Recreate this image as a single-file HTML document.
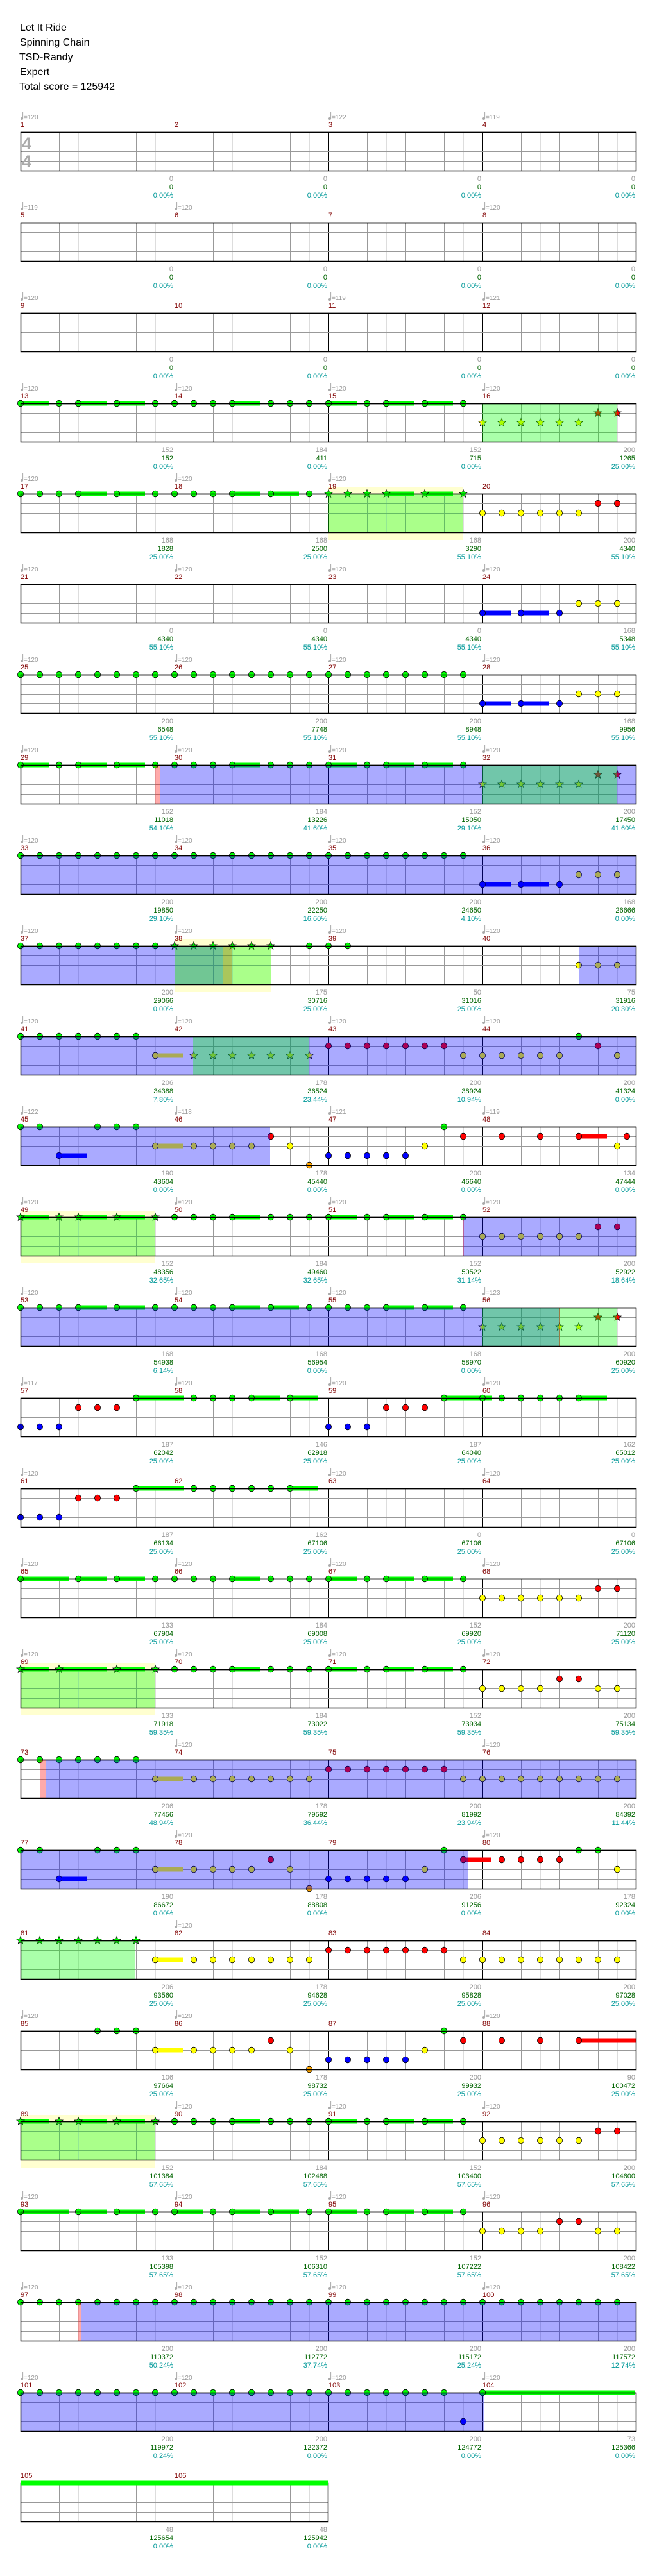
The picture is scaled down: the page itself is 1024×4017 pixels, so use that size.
<!DOCTYPE html>
<html><head><meta charset="utf-8"><style>
html,body{margin:0;padding:0;background:#fff;}
svg text{font-family:"Liberation Sans","DejaVu Sans",sans-serif;}
</style></head><body>
<svg id="s" xmlns="http://www.w3.org/2000/svg" width="1024" height="4012" viewBox="0 0 1024 4012">
<rect width="1024" height="4012" fill="#fff"/>
<text x="31" y="48" font-size="16">Let It Ride</text>
<text x="31" y="71" font-size="16">Spinning Chain</text>
<text x="30" y="94" font-size="16">TSD-Randy</text>
<text x="31" y="117" font-size="16">Expert</text>
<text x="30" y="140" font-size="16">Total score = 125942</text>
</svg>
<script>
(function(){
var svg=document.getElementById('s');var NS='http://www.w3.org/2000/svg';var out=[];
var X0=32,E=30,MW=240;
function ex(e){return X0+E*e;}
var LC={g:'#00ff00',r:'#ff0000',y:'#ffff00',b:'#0000ff',o:'#ffa500'};
var LI={g:0,r:1,y:2,b:3,o:4};
function R(a,b,l,f){var s=[];for(var i=a;i<=b;i++)s.push(i+l+(f||''));return s.join(' ');}
var M1="0g-44 2g 3g-44 5g-44 7g 8g 9g 10g 11g-44 13g 14g 15g 16g-44 18g 19g-44 21g-44 23g";
var S16="24ys 25ys 26ys 27ys 28ys 29ys 30rs 31rs";
var B6="24b-44 26b-44 28b 29y 30y 31y";
var YR="24y 25y 26y 27y 28y 29y 30r 31r";
var MID="8g 9g 10g 11g-44 13g 14g 15g 16g-44 18g 19g-44 21g-44 23g";
var STARS1="0gs-44 2gs 3gs-44 5gs-44 7gs "+MID+" "+YR;
var z3=[['0','0','0.00%'],['0','0','0.00%'],['0','0','0.00%'],['0','0','0.00%']];
var rows=[
{t:[[0,120],[2,122],[3,119]],n:"",st:z3,ts:1},
{t:[[0,119],[1,120],[3,120]],n:"",st:z3},
{t:[[0,120],[2,119],[3,121]],n:"",st:z3},
{t:[[0,120],[1,120],[2,120],[3,120]],n:M1+" "+S16,ov:[['g',752,962]],st:[['152','152','0.00%'],['184','411','0.00%'],['152','715','0.00%'],['200','1265','25.00%']]},
{t:[[0,120],[1,120],[2,120]],n:"0g 1g 2g 3g-44 5g-44 7g 8g 9g 10g 11g-44 13g-44 15g 16gs 17gs 18gs 19gs-44 21gs-44 23gs "+YR,ov:[['y',512,722],['g',512,722]],st:[['168','1828','25.00%'],['168','2500','25.00%'],['168','3290','55.10%'],['200','4340','55.10%']]},
{t:[[0,120],[1,120],[2,120],[3,120]],n:B6,st:[['0','4340','55.10%'],['0','4340','55.10%'],['0','4340','55.10%'],['168','5348','55.10%']]},
{t:[[0,120],[1,120],[2,120],[3,120]],n:R(0,23,'g')+" "+B6,st:[['200','6548','55.10%'],['200','7748','55.10%'],['200','8948','55.10%'],['168','9956','55.10%']]},
{t:[[0,120],[1,120],[2,120],[3,120]],n:M1+" "+S16,ov:[['r',242,250],['b',250,992],['g',752,962]],st:[['152','11018','54.10%'],['184','13226','41.60%'],['152','15050','29.10%'],['200','17450','41.60%']]},
{t:[[0,120],[1,120],[2,120],[3,120]],n:R(0,23,'g')+" "+B6,ov:[['b',32,992]],st:[['200','19850','29.10%'],['200','22250','16.60%'],['200','24650','4.10%'],['168','26666','0.00%']]},
{t:[[0,120],[1,120],[2,120],[3,120]],n:R(0,7,'g')+" "+R(8,13,'g','s')+" 15g 16g 17g 29y 30y 31y",ov:[['y',272,422],['b',32,348],['r',348,361],['g',272,422],['b',902,992]],st:[['200','29066','0.00%'],['175','30716','25.00%'],['50','31016','25.00%'],['75','31916','20.30%']]},
{t:[[0,120],[1,120],[2,120],[3,120]],n:R(0,6,'g')+" 7y-44 "+R(9,15,'y','s')+" "+R(16,22,'r')+" "+R(23,28,'y')+" 29g 30r 31y",ov:[['b',32,992],['g',301,482]],st:[['206','34388','7.80%'],['178','36524','23.44%'],['200','38924','10.94%'],['200','41324','0.00%']]},
{t:[[0,122],[1,118],[2,121],[3,119]],n:"0g 1g 4g 5g 6g 2b-44 7y-44 9y 10y 11y 12y 13r 14y 15o "+R(16,20,'b')+" 21y 22g 23r 25r 27r 29r-44 31y 31.5r",ov:[['b',32,421]],st:[['190','43604','0.00%'],['178','45440','0.00%'],['200','46640','0.00%'],['134','47444','0.00%']]},
{t:[[0,120],[1,120],[2,120],[3,120]],n:STARS1,ov:[['y',32,242],['g',32,242],['b',722,992],['r',721,723]],st:[['152','48356','32.65%'],['184','49460','32.65%'],['152','50522','31.14%'],['200','52922','18.64%']]},
{t:[[0,120],[1,120],[2,120],[3,123]],n:"0g 1g 2g 3g-44 5g-44 7g 8g 9g 10g 11g-44 13g-44 15g 16g 17g 18g 19g-44 21g-44 23g "+S16,ov:[['b',32,872],['g',752,962],['r',871,873]],st:[['168','54938','6.14%'],['168','56954','0.00%'],['168','58970','0.00%'],['200','60920','25.00%']]},
{t:[[0,117],[1,120],[2,120],[3,120]],n:"0b 1b 2b 3r 4r 5r 6g-75 9g 10g 11g 12g-44 14g-44 16b 17b 18b 19r 20r 21r 22g-75 24g 25g 26g 27g 28g 29g-44",st:[['187','62042','25.00%'],['146','62918','25.00%'],['187','64040','25.00%'],['162','65012','25.00%']]},
{t:[[0,120],[2,120],[3,120]],n:"0b 1b 2b 3r 4r 5r 6g-75 9g 10g 11g 12g 13g 14g-44",st:[['187','66134','25.00%'],['162','67106','25.00%'],['0','67106','25.00%'],['0','67106','25.00%']]},
{t:[[0,120],[1,120],[2,120],[3,120]],n:"0g-75 3g-44 5g-44 7g "+MID+" "+YR,st:[['133','67904','25.00%'],['184','69008','25.00%'],['152','69920','25.00%'],['200','71120','25.00%']]},
{t:[[0,120],[1,120],[2,120],[3,120]],n:"0gs-44 2gs-75 5gs-44 7gs "+MID+" 24y 25y 26y 27y 28r 29r 30y 31y",ov:[['y',32,242],['g',32,242]],st:[['133','71918','59.35%'],['184','73022','59.35%'],['152','73934','59.35%'],['200','75134','59.35%']]},
{t:[[1,120],[3,120]],n:R(0,6,'g')+" 7y-44 "+R(9,15,'y')+" "+R(16,22,'r')+" "+R(23,31,'y'),ov:[['r',62,71],['b',71,992]],st:[['206','77456','48.94%'],['178','79592','36.44%'],['200','81992','23.94%'],['200','84392','11.44%']]},
{t:[[1,120],[3,120]],n:"0g 1g 4g 5g 6g 2b-44 7y-44 9y 10y 11y 12y 13r 14y 15o "+R(16,20,'b')+" 21y 22g 23r-44 25r 26r 27r 28r 29g 30g 31y",ov:[['b',32,730]],st:[['190','86672','0.00%'],['178','88808','0.00%'],['206','91256','0.00%'],['178','92324','0.00%']]},
{t:[[1,120]],n:R(0,6,'g','s')+" 7y-44 "+R(9,15,'y')+" "+R(16,22,'r')+" "+R(23,31,'y'),ov:[['g',32,211]],st:[['206','93560','25.00%'],['178','94628','25.00%'],['200','95828','25.00%'],['200','97028','25.00%']]},
{t:[[0,120],[1,120],[3,120]],n:"4g 5g 6g 7y-44 9y 10y 11y 12y 13r 14y 15o "+R(16,20,'b')+" 21y 22g 23r 25r 27r 29r-90",st:[['106','97664','25.00%'],['178','98732','25.00%'],['200','99932','25.00%'],['90','100472','25.00%']]},
{t:[[1,120],[2,120],[3,120]],n:STARS1,ov:[['y',32,242],['g',32,242]],st:[['152','101384','57.65%'],['184','102488','57.65%'],['152','103400','57.65%'],['200','104600','57.65%']]},
{t:[[0,120],[1,120],[2,120],[3,120]],n:"0g-75 3g-44 5g-44 7g 8g-44 10g 11g-44 13g-44 15g 16g-44 18g 19g-44 21g-44 23g 24y 25y 26y 27y 28r 29r 30y 31y",st:[['133','105398','57.65%'],['152','106310','57.65%'],['152','107222','57.65%'],['200','108422','57.65%']]},
{t:[[0,120],[1,120],[2,120],[3,120]],n:R(0,31,'g'),ov:[['r',122,127],['b',127,992]],st:[['200','110372','50.24%'],['200','112772','37.74%'],['200','115172','25.24%'],['200','117572','12.74%']]},
{t:[[0,120],[1,120],[2,120],[3,120]],n:R(0,22,'g')+" 23b 24g-238",ov:[['b',32,755]],st:[['200','119972','0.24%'],['200','122372','0.00%'],['200','124772','0.00%'],['73','125366','0.00%']]},
{t:[],n:"",cnt:2,bar:1,st:[['48','125654','0.00%'],['48','125942','0.00%']]}
];
function star(cx,cy,ro,ri){var p=[];for(var i=0;i<10;i++){var r=i%2?ri:ro;var a=-Math.PI/2+i*Math.PI/5;p.push((cx+r*Math.cos(a)).toFixed(1)+','+(cy+r*Math.sin(a)).toFixed(1));}return p.join(' ');}
rows.forEach(function(row,ri){
 var T=206+141*ri;var cnt=row.cnt||4;var W=MW*cnt;var m0=ri*4+1;
 var ov=row.ov||[];
 ov.forEach(function(o){if(o[0]=='y')out.push('<rect x="'+o[1]+'" y="'+(T-10)+'" width="'+(o[2]-o[1])+'" height="82" fill="#ffffd0"/>');});
 // grid
 for(var m=0;m<cnt;m++){var xs=X0+m*MW;
  for(var j=1;j<8;j++){var x=xs+30*j+0.5;out.push('<line x1="'+x+'" y1="'+T+'" x2="'+x+'" y2="'+(T+60)+'" stroke="'+(j%2?'#dddddd':'#999999')+'" stroke-width="1"/>');}
  if(m>0)out.push('<line x1="'+(xs+0.5)+'" y1="'+T+'" x2="'+(xs+0.5)+'" y2="'+(T+60)+'" stroke="#000" stroke-width="1"/>');
  out.push('<text x="'+xs+'" y="'+(T-8)+'" font-size="11" fill="#800000">'+(m0+m)+'</text>');
  var s=row.st[m];var xe=xs+MW-2;
  out.push('<text x="'+xe+'" y="'+(T+76)+'" font-size="11" fill="#999" text-anchor="end">'+s[0]+'</text>');
  out.push('<text x="'+xe+'" y="'+(T+89)+'" font-size="11" fill="#006400" text-anchor="end">'+s[1]+'</text>');
  out.push('<text x="'+xe+'" y="'+(T+102)+'" font-size="11" fill="#009999" text-anchor="end">'+s[2]+'</text>');
 }
 for(var k=1;k<4;k++)out.push('<line x1="'+X0+'" y1="'+(T+15*k+0.5)+'" x2="'+(X0+W)+'" y2="'+(T+15*k+0.5)+'" stroke="#999" stroke-width="1"/>');
 row.t.forEach(function(tp){var xs=X0+tp[0]*MW;
  out.push('<circle cx="'+(xs+2)+'" cy="'+(T-21)+'" r="2" fill="#aaa"/><line x1="'+(xs+3.6)+'" y1="'+(T-21)+'" x2="'+(xs+3.6)+'" y2="'+(T-32)+'" stroke="#aaa" stroke-width="1"/>');
  out.push('<text x="'+(xs+5)+'" y="'+(T-20)+'" font-size="10" fill="#999">='+tp[1]+'</text>');});
 if(row.ts){out.push('<text x="34" y="'+(T+27)+'" font-size="27" font-weight="bold" fill="#aaa">4</text><text x="34" y="'+(T+55)+'" font-size="27" font-weight="bold" fill="#aaa">4</text>');}
 // notes
 var toks=row.n.split(/\s+/).filter(Boolean);var bars=[],heads=[];
 toks.forEach(function(tk){var r=/^(\d+(?:\.\d+)?)([grybo])(s?)(?:-(\d+))?$/.exec(tk);if(!r)return;
  var x=ex(parseFloat(r[1]));var ln=r[2];var y=T+15*LI[ln];
  if(r[4])bars.push('<rect x="'+x+'" y="'+(y-3.5)+'" width="'+r[4]+'" height="7" fill="'+LC[ln]+'"/>');
  if(r[3])heads.push('<polygon points="'+star(x,y,6.5,2.8)+'" fill="'+LC[ln]+'" stroke="#000" stroke-width="0.7"/>');
  else heads.push('<ellipse cx="'+x+'" cy="'+y+'" rx="4.6" ry="4.8" fill="'+LC[ln]+'" stroke="#000" stroke-width="0.8"/>');});
 if(row.bar)bars.push('<rect x="32" y="'+(T-3.5)+'" width="480" height="7" fill="#00ff00"/>');
 out.push('<line x1="'+X0+'" y1="'+(T+0.5)+'" x2="'+(X0+W)+'" y2="'+(T+0.5)+'" stroke="#000" stroke-width="1.5"/>');
 out.push(bars.join(''));out.push(heads.join(''));
 ov.forEach(function(o){if(o[0]=='y')return;var c=o[0]=='g'?'rgba(0,255,0,0.333)':o[0]=='b'?'rgba(0,0,255,0.333)':'rgba(255,0,0,0.333)';
  out.push('<rect x="'+o[1]+'" y="'+T+'" width="'+(o[2]-o[1])+'" height="60" fill="'+c+'"/>');});
 out.push('<rect x="'+(X0+0.5)+'" y="'+(T+0.5)+'" width="'+(W-1)+'" height="60" fill="none" stroke="#000" stroke-width="1.5"/>');
 if(row.bar)out.push('<rect x="32" y="'+(T-3.5)+'" width="480" height="7" fill="#00ff00"/>');
});
svg.insertAdjacentHTML('beforeend',out.join(''));
})();
</script>
</body></html>
